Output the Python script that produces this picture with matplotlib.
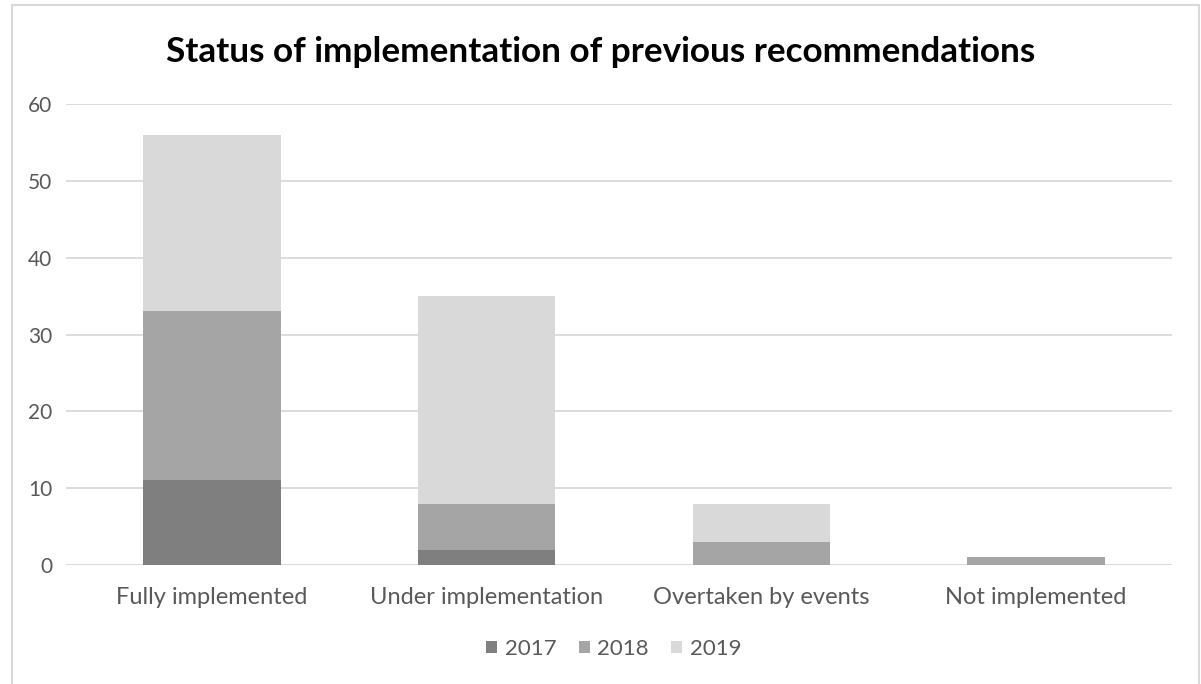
import numpy as np
import matplotlib
matplotlib.use("Agg")
import matplotlib.pyplot as plt
from matplotlib.patches import Rectangle

plt.rcParams["font.family"] = ["Lato", "DejaVu Sans"]

categories = ["Fully implemented", "Under implementation", "Overtaken by events", "Not implemented"]
years = ["2017", "2018", "2019"]
counts_2017 = [11, 2, 0, 0]
counts_2018 = [22, 6, 3, 1]
counts_2019 = [23, 27, 5, 0]
year_colors = ["#7f7f7f", "#a5a5a5", "#d9d9d9"]

fig = plt.figure(figsize=(12.01, 6.84), dpi=100)
ax = fig.add_axes([66 / 1201, 1 - 565 / 684, (1172 - 66) / 1201, (565 - 104) / 684])

x = np.arange(len(categories))
bottom = np.zeros(len(categories))
for label, vals, color in zip(years, [counts_2017, counts_2018, counts_2019], year_colors):
    ax.bar(x, vals, width=0.5, bottom=bottom, color=color, label=label, zorder=3)
    bottom += np.array(vals)

ax.set_xlim(-0.531, 3.495)
ax.set_ylim(0, 60)
ax.set_yticks(range(0, 61, 10))
ax.set_xticks(x)
ax.set_xticklabels(categories)
ax.grid(axis="y", color="#d9d9d9", linewidth=1.3, zorder=0)
for spine in ax.spines.values():
    spine.set_visible(False)
ax.tick_params(length=0, colors="#595959")
ax.tick_params(axis="x", labelsize=17, pad=16)
ax.tick_params(axis="y", labelsize=15, pad=10)

fig.text(0.5, 1 - 52 / 684, "Status of implementation of previous recommendations",
         ha="center", va="center", fontsize=25.3, fontweight="bold", color="#000000")

leg = fig.legend(loc="center", bbox_to_anchor=(0.511, 1 - 649 / 684), ncol=3, frameon=False,
                 fontsize=16, handlelength=0.5, handleheight=0.5, handletextpad=0.35,
                 columnspacing=1.0)
for t in leg.get_texts():
    t.set_color("#595959")

# light frame around the chart area
fig.patches.append(Rectangle((12 / 1201, -0.05), (1199 - 12) / 1201, 1.05 - 5 / 684,
                             transform=fig.transFigure, fill=False,
                             edgecolor="#d9d9d9", linewidth=1.5))

fig.savefig("out.png", dpi=100, facecolor="white")
